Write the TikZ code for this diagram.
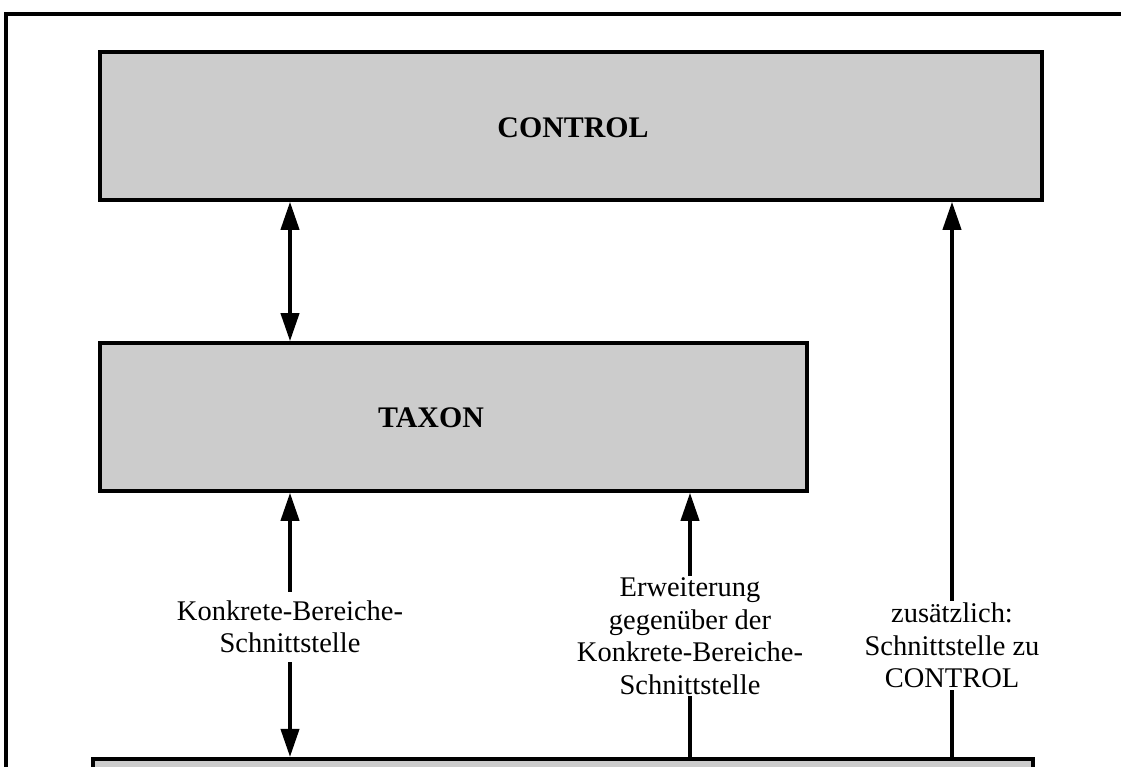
\documentclass[tikz,border=0pt]{standalone}
\usepackage{fontspec}
\setmainfont{Liberation Serif}
\usetikzlibrary{arrows.meta}

\tikzset{
  kasten/.style={draw, line width=2pt, fill=black!20, inner sep=0pt},
  titel/.style={font=\fontsize{17}{20}\selectfont\bfseries},
  beschr/.style={align=center, inner xsep=2pt, inner ysep=3pt, font=\fontsize{16.2}{18.5}\selectfont},
  pfeil/.style={line width=2.2pt, -{Triangle[length=0.56cm,width=0.36cm]}},
  doppelpfeil/.style={line width=2.2pt, {Triangle[length=0.56cm,width=0.36cm]}-{Triangle[length=0.56cm,width=0.36cm]}},
  strich/.style={line width=2.2pt},
}

\begin{document}
\begin{tikzpicture}
\useasboundingbox (0,0) rectangle (22.42,-15.34);
\clip (0,0) rectangle (22.42,-15.34);
% Rahmen
\draw[line width=2.6pt] (0.12,-16) -- (0.12,-0.28) -- (23,-0.28);
% Module
\node[kasten, minimum width=18.84cm, minimum height=2.96cm] (control) at (11.42,-2.52) {};
\node[titel] (controltext) at (11.46,-2.56) {CONTROL};
\node[kasten, minimum width=14.14cm, minimum height=2.96cm] (taxon) at (9.07,-8.34) {};
\node[titel] (taxontext) at (8.62,-8.36) {TAXON};
\node[kasten, anchor=north, minimum width=18.8cm, minimum height=3cm] (bereich) at (11.26,-15.14) {};
% Schnittstellen
\coordinate (links) at (5.8,0);
\node[beschr, inner ysep=5pt] (kbs) at (5.8,-12.54) {Konkrete-Bereiche-\\Schnittstelle};
\node[beschr, inner ysep=1pt] (erw) at (13.8,-12.72) {Erweiterung\\gegenüber der\\Konkrete-Bereiche-\\Schnittstelle};
\node[beschr, inner ysep=1pt] (zus) at (19.04,-12.91) {zusätzlich:\\Schnittstelle zu\\CONTROL};
\draw[doppelpfeil] (control.south -| links) -- (taxon.north -| links);
\draw[pfeil] (kbs) -- (taxon.south -| kbs);
\draw[pfeil] (kbs) -- (bereich.north -| kbs);
\draw[pfeil] (erw) -- (taxon.south -| erw);
\draw[strich] (erw) -- (bereich.north -| erw);
\draw[pfeil] (zus) -- (control.south -| zus);
\draw[strich] (zus) -- (bereich.north -| zus);
\end{tikzpicture}
\end{document}
